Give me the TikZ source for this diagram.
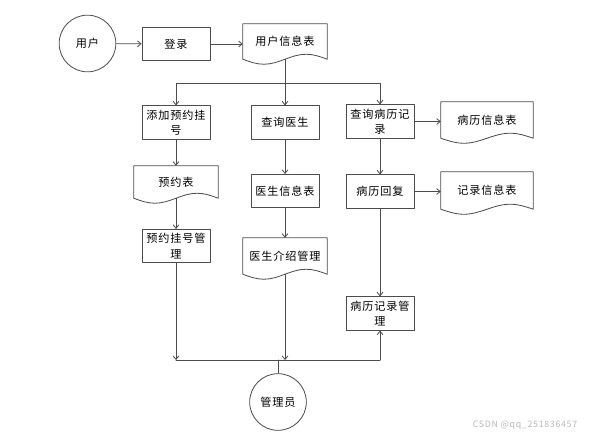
\documentclass[tikz,border=0pt]{standalone}
\usepackage{fontspec}
\setmainfont{Noto Sans CJK SC}[LetterSpace=8]
\usetikzlibrary{arrows.meta,calc}
\begin{document}
\begin{tikzpicture}[x=0.03cm,y=0.03cm,>={Straight Barb[length=3pt,width=5pt]},line cap=round,line join=round,
		every node/.style={font=\fontsize{9.5pt}{13pt}\selectfont},
		line/.style={draw=black!70,line width=0.7pt},
		box/.style={line,minimum width=2.04cm,minimum height=1.0cm,align=center,inner sep=1pt},
		docu/.style={minimum width=2.52cm,align=center,inner sep=1pt},
		actor/.style={line,circle,minimum size=1.7cm,inner sep=0pt}]
	\def\docshape#1{\draw[line] (#1.south east) -- (#1.north east) -- (#1.north west) -- (#1.south west)
		sin ($(#1.south west)!0.25!(#1.south east)+(0,-5)$) cos ($(#1.south west)!0.5!(#1.south east)$)
		sin ($(#1.south west)!0.75!(#1.south east)+(0,5)$) cos (#1.south east) -- cycle;}
	\useasboundingbox (0,0) rectangle (600,437);
	\node[actor] (user) at (87.5,393.5) {用户};
	\node[box] (login) at (176,393) {登录};
	\node[docu,minimum height=1.05cm] (uinfo) at (285,395.5) {用户信息表};
	\node[box] (add) at (176,314.5) {添加预约挂\\号};
	\node[box] (qdoc) at (285,314.5) {查询医生};
	\node[box] (qrec) at (380,315.5) {查询病历记\\录};
	\node[docu,minimum width=2.76cm,minimum height=1.08cm] (recinfo) at (487,317) {病历信息表};
	\node[box] (reply) at (380,245.5) {病历回复};
	\node[docu,minimum width=2.76cm,minimum height=1.11cm] (recdoc) at (487,246.5) {记录信息表};
	\node[docu,minimum height=0.96cm] (appt) at (176,255) {预约表};
	\node[box] (docinfo) at (285,246) {医生信息表};
	\node[box] (apptmgr) at (176,191) {预约挂号管\\理};
	\node[docu,minimum height=1.08cm] (docmgr) at (285,181) {医生介绍管理};
	\node[box] (recmgr) at (380,123.5) {病历记录管\\理};
	\node[actor] (admin) at (278,35) {管理员};
	\node[font=\fontsize{7.5pt}{9pt}\selectfont,text=black!28] (mark) at (525,12) {CSDN @qq\_251836457};
	\foreach \d in {uinfo,recinfo,recdoc,appt,docmgr} \docshape{\d};
	\coordinate (split) at (285,354);
	\coordinate (join) at (278,77);
	% top row
	\draw[line,->] (user) -- (login);
	\draw[line,->] (login.east) -- (login.east -| uinfo.west);
	\draw[line,->] (uinfo) -- (qdoc);
	\draw[line,->] (split) -| (add);
	\draw[line,->] (split) -| (qrec);
	% columns
	\draw[line,->] (add) -- (appt);
	\draw[line,->] (appt) -- (apptmgr);
	\draw[line,->] (qdoc) -- (docinfo);
	\draw[line,->] (docinfo) -- (docmgr);
	\draw[line,->] (qrec) -- (reply);
	\draw[line,->] (reply) -- (recmgr);
	\draw[line,->] (qrec.east) -- (qrec.east -| recinfo.west);
	\draw[line,->] (reply.east) -- (reply.east -| recdoc.west);
	% admin
	\draw[line,->] (apptmgr) -- (apptmgr |- join);
	\draw[line,->] (docmgr) -- (docmgr |- join);
	\draw[line] (apptmgr |- join) -- (join -| recmgr);
	\draw[line,->] (join -| recmgr) -- (recmgr);
	\draw[line] (admin) -- (join);
\end{tikzpicture}
\end{document}
